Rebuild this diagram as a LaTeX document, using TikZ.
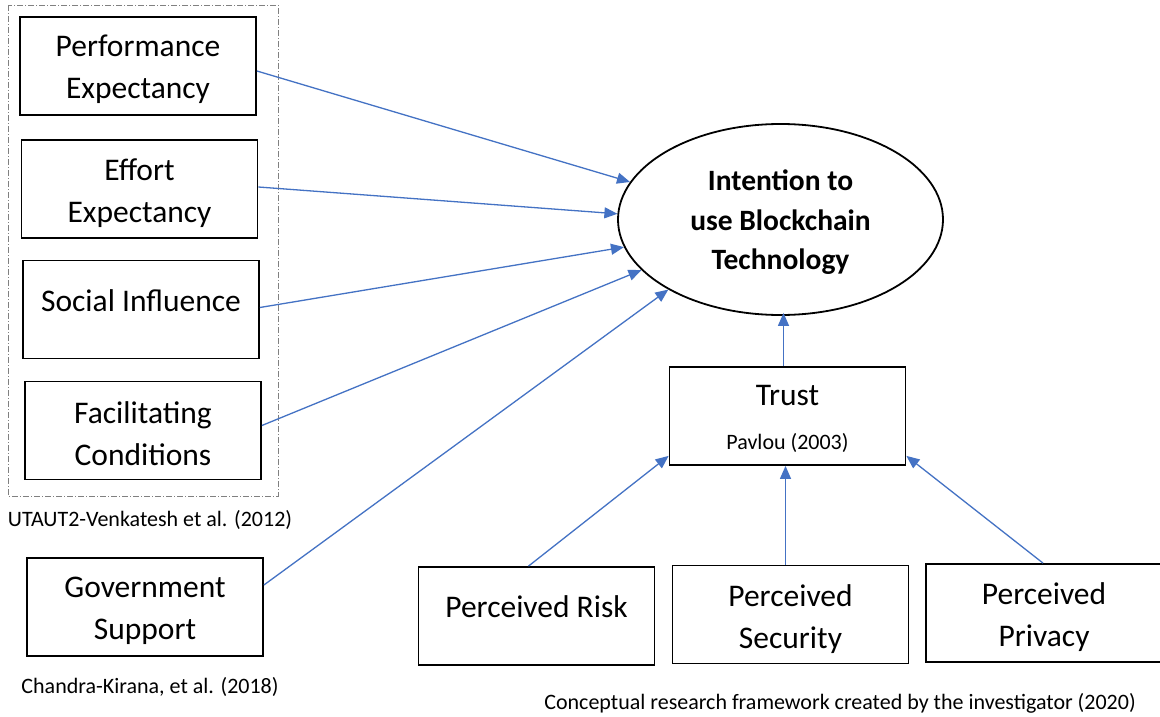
\documentclass[tikz,border=0pt]{standalone}
\usepackage{fontspec}
\setmainfont{Carlito}
\usetikzlibrary{shapes.geometric,arrows.meta,calc}
\definecolor{linkblue}{RGB}{68,114,196}
\begin{document}
\begin{tikzpicture}[x=1pt,y=-1pt,
  box/.style={draw=black,line width=1.8pt,minimum width=236pt,minimum height=98pt,inner sep=0pt},
  boxtext/.style={inner sep=0pt,align=center,font=\fontsize{31.5}{42}\selectfont},
  link/.style={draw=linkblue,line width=1.3pt,-{Triangle[length=13pt,width=11pt]}},
  caption/.style={inner sep=0pt,font=\fontsize{22}{26}\selectfont}]
\useasboundingbox (0,0) rectangle (1160,717);
\fill[white] (0,0) rectangle (1160,717);

% UTAUT2 group frame
\draw[gray,line width=0.9pt,dash pattern=on 6pt off 2pt on 1pt off 2pt] (8,5) rectangle (278,496);

% constructs on the left
\node[box] (pe) at (138,66) {};
\node[boxtext] (petext) at ($(pe)+(0,3)$) {Performance\\Expectancy};
\node[box] (ee) at (139.5,189) {};
\node[boxtext] (eetext) at ($(ee)+(0,4)$) {Effort\\Expectancy};
\node[box] (si) at (141,309.5) {};
\node[boxtext] (sitext) at (141,301) {Social Influence};
\node[box] (fc) at (143,430.5) {};
\node[boxtext] (fctext) at ($(fc)+(0,3)$) {Facilitating\\Conditions};
\node[caption] (utaut) at (150,520) {UTAUT2-Venkatesh et al. (2012)};
\node[box] (gs) at (145,607) {};
\node[boxtext] (gstext) at ($(gs)+(0,4)$) {Government\\Support};
\node[caption] (chandra) at (150,687) {Chandra-Kirana, et al. (2018)};

% dependent variable
\node[ellipse,draw=black,line width=1.8pt,minimum width=325pt,minimum height=191pt,
  inner sep=0pt] (ell) at (780.5,219.5) {};
\node[inner sep=0pt,align=center,font=\bfseries\fontsize{29.5}{39.5}\selectfont]
  (elltext) at ($(ell)+(0,3)$) {Intention to\\use Blockchain\\Technology};

% trust and its antecedents
\node[box] (trust) at (787.5,416) {};
\node[boxtext] (trusttext) at (787.5,396) {Trust};
\node[caption] (pavlou) at (787.5,443) {Pavlou (2003)};
\node[box] (pr) at (536.5,616) {};
\node[boxtext] (prtext) at (536.5,607) {Perceived Risk};
\node[box] (ps) at (790.5,614.5) {};
\node[boxtext] (pstext) at ($(ps)+(0,5)$) {Perceived\\Security};
\node[box] (pp) at (1044,613) {};
\node[boxtext] (pptext) at ($(pp)+(0,4)$) {Perceived\\Privacy};
\node[caption] (concept) at (840,703) {Conceptual research framework created by the investigator (2020)};

% paths
\draw[link] ($(pe.east)+(0,5)$) -- (ell.166);
\draw[link] ($(ee.east)+(0,-2)$) -- (ell.178);
\draw[link] ($(si.east)+(0,-2)$) -- (ell.190);
\draw[link] ($(fc.east)+(0,-5)$) -- (ell.200);
\draw[link] ($(gs.east)+(0,-22)$) -- (ell.212);
\draw[link] ($(trust.north)+(-4,0)$) -- ($(trust.north |- ell.south)+(-4,-3)$);
\draw[link] ($(pr.north)+(-8,0)$) -- ($(trust.south west)+(0,-10)$);
\draw[link] ($(trust.south |- ps.north)+(-2,0)$) -- ($(trust.south)+(-2,0)$);
\draw[link] ($(pp.north)+(-1,0)$) -- ($(trust.south east)+(0,-10)$);
\end{tikzpicture}
\end{document}
